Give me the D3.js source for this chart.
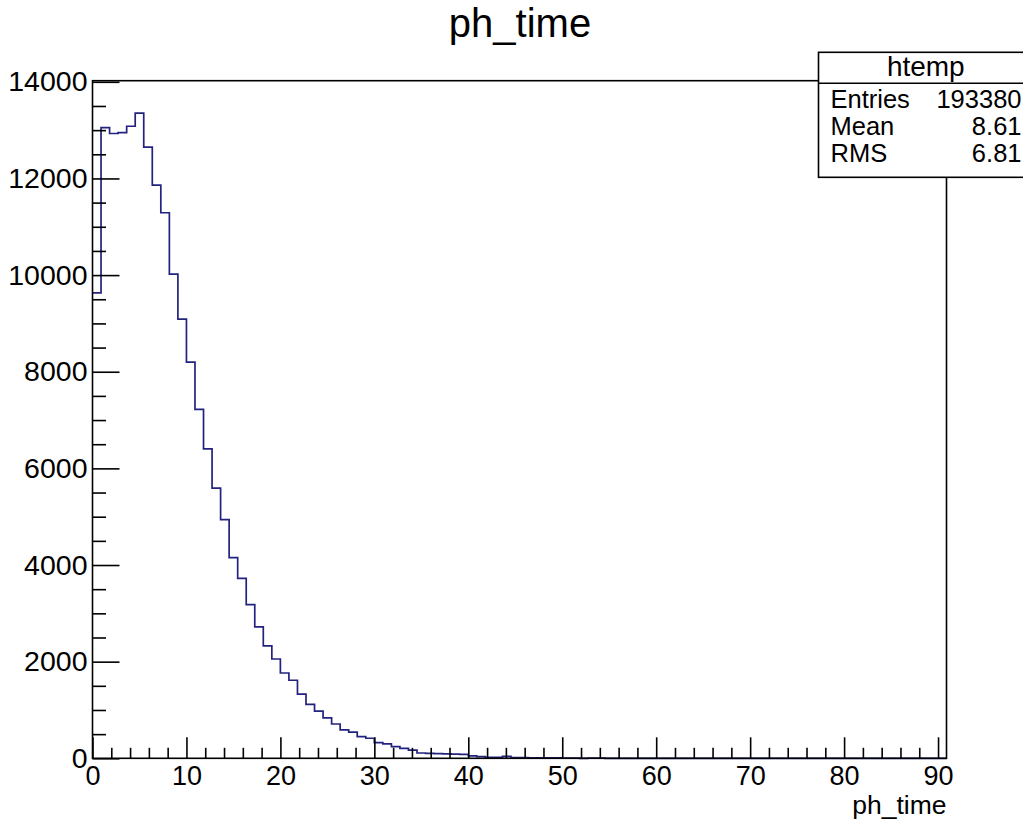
<!DOCTYPE html>
<html>
<head>
<meta charset="utf-8">
<script src="https://cdn.jsdelivr.net/npm/d3@7"></script>
<style>
  body { margin: 0; background: #fff; }
  text { font-family: "Liberation Sans", Arial, sans-serif; fill: #000; }
</style>
</head>
<body>
<svg></svg>
<script>
// histogram definition: 100 bins from 0 to 90.9
const nBins = 100;
const xMin = 0;
const xMax = 90.9;
const binCounts = [
  9630, 13050, 12930, 12950, 13080, 13350, 12650, 11860, 11290, 10020,
  9090, 8200, 7220, 6405, 5590, 4940, 4155, 3725, 3180, 2720,
  2325, 2055, 1765, 1615, 1330, 1115, 975, 838, 710, 590,
  540, 450, 415, 325, 300, 240, 205, 170, 110, 100,
  95, 92, 88, 82, 50, 35, 20, 20, 40, 15,
  12, 10, 10, 8, 8, 5, 3, 0, 6, 6,
  0, 0, 0, 0, 0, 0, 0, 0, 0, 0,
  0, 0, 0, 0, 0, 0, 0, 0, 0, 0,
  0, 0, 0, 0, 0, 0, 0, 0, 0, 0,
  0, 0, 0, 0, 0, 0, 0, 0, 0, 0
];
const yMax = 14023;
const xMajorTicks = [0, 10, 20, 30, 40, 50, 60, 70, 80, 90];
const yMajorTicks = [0, 2000, 4000, 6000, 8000, 10000, 12000, 14000];

const histTitle = "ph_time";
const xTitle = "ph_time";
const statsName = "htemp";
const statsLabels = ["Entries", "Mean", "RMS"];
const statsValues = ["193380", "8.61", "6.81"];

function draw() {
  const width = 1023;
  const height = 820;
  const frame = { left: 92.5, right: 946.5, top: 80.7, bottom: 758.3 };

  const svg = d3.select("svg").attr("width", width).attr("height", height);

  const x = d3.scaleLinear().domain([xMin, xMax]).range([frame.left, frame.right]);
  const y = d3.scaleLinear().domain([0, yMax]).range([frame.bottom, frame.top]);

  const binWidth = (xMax - xMin) / nBins;
  const points = binCounts.map((c, i) => [xMin + i * binWidth, c]);
  points.push([xMax, binCounts[binCounts.length - 1]]);

  // histogram outline
  svg
    .append("path")
    .datum(points)
    .attr("fill", "none")
    .attr("stroke", "#23237f")
    .attr("stroke-width", 1.7)
    .attr(
      "d",
      d3
        .line()
        .x(d => x(d[0]))
        .y(d => y(d[1]))
        .curve(d3.curveStepAfter)
    );

  // frame
  svg
    .append("rect")
    .attr("x", frame.left)
    .attr("y", frame.top)
    .attr("width", frame.right - frame.left)
    .attr("height", frame.bottom - frame.top)
    .attr("fill", "none")
    .attr("stroke", "#000")
    .attr("stroke-width", 1.6);

  const xMinor = d3.range(0, 91, 2).filter(v => v % 10 !== 0);
  const yMinor = d3.range(0, 14001, 500).filter(v => v % 2000 !== 0);

  // x axis
  svg
    .append("g")
    .attr("transform", `translate(0,${frame.bottom})`)
    .call(d3.axisBottom(x).tickValues(xMinor).tickSize(-10.5).tickFormat(""))
    .call(g => g.select(".domain").remove());
  const xAxis = svg
    .append("g")
    .attr("transform", `translate(0,${frame.bottom})`)
    .call(
      d3.axisBottom(x).tickValues(xMajorTicks).tickSize(-21).tickPadding(8).tickFormat(d3.format("d"))
    )
    .call(g => g.select(".domain").remove());
  xAxis.selectAll("text").attr("font-size", 27).attr("font-family", null);

  // y axis
  svg
    .append("g")
    .attr("transform", `translate(${frame.left},0)`)
    .call(d3.axisLeft(y).tickValues(yMinor).tickSize(-13.5).tickFormat(""))
    .call(g => g.select(".domain").remove());
  const yAxis = svg
    .append("g")
    .attr("transform", `translate(${frame.left},0)`)
    .call(d3.axisLeft(y).tickValues(yMajorTicks).tickSize(-27).tickPadding(5).tickFormat(d3.format("d")))
    .call(g => g.select(".domain").remove());
  yAxis.selectAll("text").attr("font-size", 28.5).attr("font-family", null);

  svg.selectAll(".tick line").attr("stroke", "#000").attr("stroke-width", 1.6);

  // titles
  svg
    .append("text")
    .attr("x", 520)
    .attr("y", 36.5)
    .attr("text-anchor", "middle")
    .attr("font-size", 40)
    .text(histTitle);

  svg
    .append("text")
    .attr("x", frame.right)
    .attr("y", 814)
    .attr("text-anchor", "end")
    .attr("font-size", 26.5)
    .text(xTitle);

  // stats box
  const box = { left: 818.5, top: 52.3, sep: 83.3, bottom: 177.3, right: 1026 };
  const stats = svg.append("g");
  stats
    .append("rect")
    .attr("x", box.left)
    .attr("y", box.top)
    .attr("width", box.right - box.left)
    .attr("height", box.bottom - box.top)
    .attr("fill", "#fff")
    .attr("stroke", "#000")
    .attr("stroke-width", 1.6);
  stats
    .append("line")
    .attr("x1", box.left)
    .attr("x2", box.right)
    .attr("y1", box.sep)
    .attr("y2", box.sep)
    .attr("stroke", "#000")
    .attr("stroke-width", 1.6);
  stats
    .append("text")
    .attr("x", 925.8)
    .attr("y", 76)
    .attr("text-anchor", "middle")
    .attr("font-size", 28)
    .text(statsName);

  const rowY = d3.scalePoint().domain(statsLabels).range([107.5, 161.7]);
  stats
    .selectAll("text.label")
    .data(statsLabels)
    .join("text")
    .classed("label", true)
    .attr("x", 830.5)
    .attr("y", d => rowY(d))
    .attr("font-size", 25.5)
    .text(d => d);
  stats
    .selectAll("text.value")
    .data(statsValues)
    .join("text")
    .classed("value", true)
    .attr("x", 1021.5)
    .attr("y", (_, i) => rowY(statsLabels[i]))
    .attr("text-anchor", "end")
    .attr("font-size", 25.5)
    .text(d => d);
}

draw();
</script>
</body>
</html>
